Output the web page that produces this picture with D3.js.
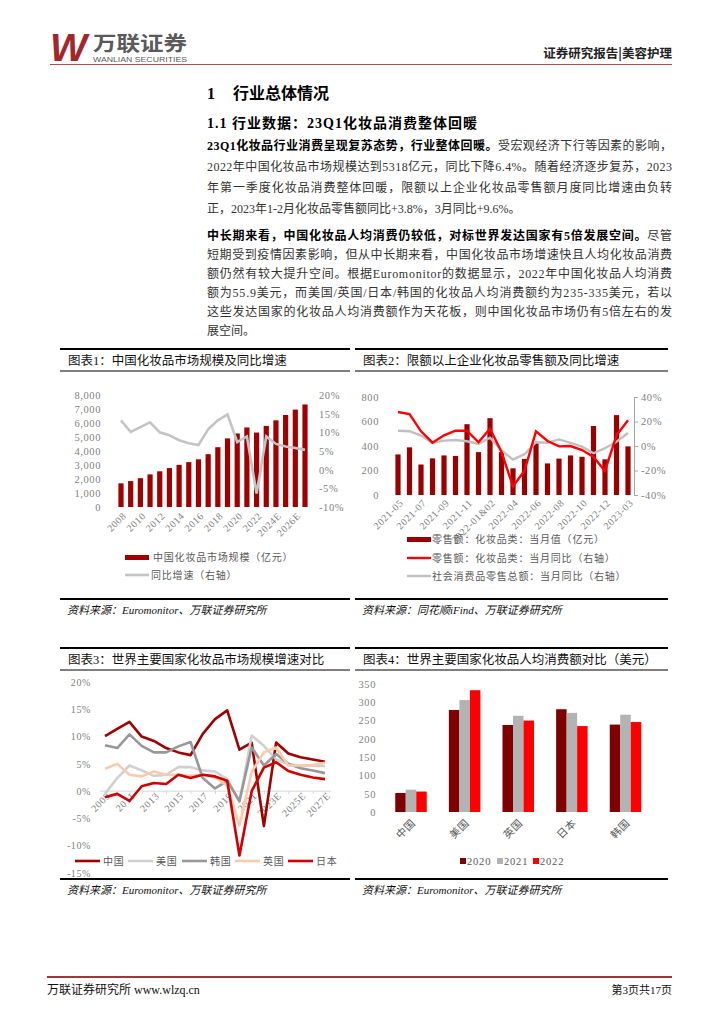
<!DOCTYPE html>
<html>
<head>
<meta charset="utf-8">
<script src="https://cdn.jsdelivr.net/npm/d3@7"></script>
<style>
  body { margin: 0; background: #fff; }
  svg { display: block; }
</style>
</head>
<body>
<svg id="page" width="724" height="1024"></svg>
<script>
// ---------- data ----------
// chart 1: China cosmetics market size (亿元) and YoY (%)
const marketYears = ['2008','2009','2010','2011','2012','2013','2014','2015','2016','2017','2018','2019','2020','2021','2022','2023E','2024E','2025E','2026E','2027E'];
const marketSize = [1690, 1850, 2060, 2330, 2550, 2780, 3010, 3205, 3404, 3770, 4270, 4900, 5250, 5682, 5318, 5791, 6190, 6574, 6955, 7324];
const marketGrowth = [13.2, 10.1, 11.4, 12.7, 10.0, 9.2, 7.9, 7.1, 6.6, 10.8, 13.2, 14.8, 7.4, 8.9, -6.4, 8.9, 6.9, 6.2, 5.8, 5.3];
const c1LeftTicks = [0, 1000, 2000, 3000, 4000, 5000, 6000, 7000, 8000];
const c1RightTicks = [-10, -5, 0, 5, 10, 15, 20];
const c1XLabels = ['2008','2010','2012','2014','2016','2018','2020','2022','2024E','2026E'];

// chart 2: retail sales of cosmetics above designated size
const retailMonths = ['2021-05','2021-06','2021-07','2021-08','2021-09','2021-10','2021-11','2021-12','2022-01&02','2022-03','2022-04','2022-05','2022-06','2022-07','2022-08','2022-09','2022-10','2022-11','2022-12','2023-01&02','2023-03'];
const cosmeticsRetail = [331, 389, 249, 299, 323, 319, 578, 350, 627, 350, 218, 294, 424, 258, 297, 323, 312, 563, 291, 652, 397];
const cosmeticsYoY = [27.8, 26.1, 12.0, 2.7, 8.7, 12.5, 12.5, 3.0, 14.1, -4.9, -33.0, -20.1, 12.0, 4.1, -0.3, 0.0, -3.3, -9.0, -20.4, 8.7, 21.0];
const totalRetailYoY = [12.4, 12.1, 8.5, 2.5, 4.4, 4.9, 3.9, 1.7, 6.7, -3.5, -11.1, -6.7, 3.1, 2.7, 5.4, 2.5, -0.5, -5.9, -1.8, 3.5, 10.6];
const c2LeftTicks = [0, 200, 400, 600, 800];
const c2RightTicks = [-40, -20, 0, 20, 40];
const c2XLabels = ['2021-05','2021-07','2021-09','2021-11','2022-01&02','2022-04','2022-06','2022-08','2022-10','2022-12','2023-03'];

// chart 3: market growth by country (%)
const worldYears = ['2009','2010','2011','2012','2013','2014','2015','2016','2017','2018','2019','2020','2021','2022','2023E','2024E','2025E','2026E','2027E'];
const chinaGrowth = [10.1, 11.4, 12.7, 10.0, 9.2, 7.9, 7.1, 6.6, 10.5, 13.2, 14.8, 7.6, 8.9, -6.4, 8.9, 6.9, 6.2, 5.8, 5.4];
const usGrowth = [-0.5, 2.4, 4.7, 3.8, 2.8, 3.0, 4.4, 4.4, 3.8, 3.6, 2.2, -2.0, 10.2, 8.3, 5.8, 5.0, 4.6, 4.6, 4.6];
const koreaGrowth = [8.4, 7.9, 10.4, 8.3, 7.1, 7.1, 8.2, 9.0, 2.4, 0.5, 1.9, -1.8, 8.0, 4.7, 6.8, 5.0, 4.2, 3.8, 3.3];
const ukGrowth = [4.1, 5.0, 3.0, 2.7, 3.6, 3.0, 3.0, 2.8, 3.0, 2.5, 1.0, -6.3, 3.5, 7.1, 8.0, 4.7, 4.7, 4.8, 5.2];
const japanGrowth = [-1.1, -0.5, -1.8, 0.9, 1.5, 1.3, 3.0, 2.4, 3.0, 2.7, 1.9, -11.8, 0.0, 4.3, 5.3, 3.7, 3.0, 2.5, 2.2];
const c3Ticks = [-15, -10, -5, 0, 5, 10, 15, 20];
const c3XLabels = ['2009','2011','2013','2015','2017','2019','2021','2023E','2025E','2027E'];

// chart 4: per-capita cosmetics spending (USD)
const countries = ['中国','美国','英国','日本','韩国'];
const spendYears = ['2020','2021','2022'];
const spend2020 = [52, 279, 238, 281, 239];
const spend2021 = [61, 306, 263, 271, 266];
const spend2022 = [55.9, 333, 250, 235, 246];
const c4Ticks = [0, 50, 100, 150, 200, 250, 300, 350];

// ---------- styles ----------
const TXT = '"Liberation Serif","Noto Sans CJK SC",serif';
const CJK = '"Noto Sans CJK SC",sans-serif';
const NUM = '"Liberation Serif",serif';
const AXIS_C = '#7f7f7f';

const page = d3.select('#page');

// ---------- header / footer ----------
page.append('text').attr('x', 50).attr('y', 61).text('W')
  .attr('font-family', '"Liberation Sans",sans-serif').attr('font-weight', 'bold')
  .attr('font-style', 'italic').attr('font-size', 38).attr('fill', '#a3262b')
  .attr('textLength', 37).attr('lengthAdjust', 'spacingAndGlyphs');
page.append('text').attr('x', 93).attr('y', 51).text('万联证券')
  .attr('font-family', CJK).attr('font-weight', 'bold').attr('font-size', 20).attr('fill', '#5a5a5a')
  .attr('textLength', 94).attr('lengthAdjust', 'spacingAndGlyphs');
page.append('text').attr('x', 93).attr('y', 62).text('WANLIAN SECURITIES')
  .attr('font-family', '"Liberation Sans",sans-serif').attr('font-size', 7).attr('fill', '#5a5a5a')
  .attr('textLength', 94).attr('lengthAdjust', 'spacingAndGlyphs');
page.append('text').attr('x', 672).attr('y', 58).attr('text-anchor', 'end').text('证券研究报告|美容护理')
  .attr('font-family', CJK).attr('font-weight', 'bold').attr('font-size', 12.5).attr('fill', '#222');
page.append('line').attr('x1', 50).attr('x2', 672).attr('y1', 64.5).attr('y2', 64.5)
  .attr('stroke', '#b5494b').attr('stroke-width', 1);

page.append('line').attr('x1', 47).attr('x2', 672).attr('y1', 977).attr('y2', 977)
  .attr('stroke', '#a3353a').attr('stroke-width', 2);
page.append('text').attr('x', 47).attr('y', 994).text('万联证券研究所 www.wlzq.cn')
  .attr('font-family', TXT).attr('font-size', 12).attr('fill', '#111');
page.append('text').attr('x', 672).attr('y', 994).attr('text-anchor', 'end').text('第3页共17页')
  .attr('font-family', TXT).attr('font-size', 11).attr('fill', '#111');

// ---------- headings and paragraphs ----------
page.append('text').attr('x', 207).attr('y', 99).text('1')
  .attr('font-family', TXT).attr('font-weight', 'bold').attr('font-size', 16);
page.append('text').attr('x', 233).attr('y', 99).text('行业总体情况')
  .attr('font-family', CJK).attr('font-weight', 'bold').attr('font-size', 16);
page.append('text').attr('x', 207).attr('y', 128).text('1.1 行业数据：23Q1化妆品消费整体回暖')
  .attr('font-family', TXT).attr('font-weight', 'bold').attr('font-size', 14)
  .attr('textLength', 270).attr('lengthAdjust', 'spacing');

const para1 = [
  [['23Q1化妆品行业消费呈现复苏态势，行业整体回暖。', true], ['受宏观经济下行等因素的影响，', false]],
  [['2022年中国化妆品市场规模达到5318亿元，同比下降6.4%。随着经济逐步复苏，2023', false]],
  [['年第一季度化妆品消费整体回暖，限额以上企业化妆品零售额月度同比增速由负转', false]],
  [['正，2023年1-2月化妆品零售额同比+3.8%，3月同比+9.6%。', false]]
];
const para2 = [
  [['中长期来看，中国化妆品人均消费仍较低，对标世界发达国家有5倍发展空间。', true], ['尽管', false]],
  [['短期受到疫情因素影响，但从中长期来看，中国化妆品市场增速快且人均化妆品消费', false]],
  [['额仍然有较大提升空间。根据Euromonitor的数据显示，2022年中国化妆品人均消费', false]],
  [['额为55.9美元，而美国/英国/日本/韩国的化妆品人均消费额约为235-335美元，若以', false]],
  [['这些发达国家的化妆品人均消费额作为天花板，则中国化妆品市场仍有5倍左右的发', false]],
  [['展空间。', false]]
];
function paragraph(lines, y0, pitch) {
  lines.forEach((parts, i) => {
    const t = page.append('text').attr('x', 207).attr('y', y0 + i * pitch)
      .attr('font-family', TXT).attr('font-size', 12).attr('fill', '#222');
    if (i < lines.length - 1) t.attr('textLength', 465).attr('lengthAdjust', 'spacing');
    parts.forEach(([s, bold]) => {
      t.append('tspan').text(s).attr('font-weight', bold ? 'bold' : 'normal')
        .attr('fill', bold ? '#000' : '#333');
    });
  });
}
paragraph(para1, 150, 21);
paragraph(para2, 240, 19);

// ---------- chart frames ----------
function frame(x0, x1, yTop, title, yBottom, source) {
  page.append('line').attr('x1', x0).attr('x2', x1).attr('y1', yTop).attr('y2', yTop)
    .attr('stroke', '#000').attr('stroke-width', 2);
  page.append('text').attr('x', x0 + 8).attr('y', yTop + 16).text(title)
    .attr('font-family', TXT).attr('font-size', 12.5).attr('fill', '#111');
  page.append('line').attr('x1', x0).attr('x2', x1).attr('y1', yTop + 22).attr('y2', yTop + 22)
    .attr('stroke', '#000').attr('stroke-width', 1);
  page.append('line').attr('x1', x0).attr('x2', x1).attr('y1', yBottom).attr('y2', yBottom)
    .attr('stroke', '#000').attr('stroke-width', 2);
  page.append('text').attr('x', x0 + 7).attr('y', yBottom + 15).text(source)
    .attr('font-family', TXT).attr('font-style', 'italic').attr('font-size', 11).attr('fill', '#111');
}
function styleAxis(g, size) {
  g.select('.domain').remove();
  g.selectAll('text').attr('font-family', NUM).attr('font-size', size || 10.5)
    .attr('fill', AXIS_C).attr('letter-spacing', 0.6);
}
function rotateLabels(g) {
  g.selectAll('text').attr('text-anchor', 'end').attr('x', 0).attr('y', 0)
    .attr('dy', '0.35em').attr('transform', 'rotate(-45)');
}
function legendText(x, y, s) {
  page.append('text').attr('x', x).attr('y', y + 3.5).text(s)
    .attr('font-family', TXT).attr('font-size', 10).attr('fill', '#595959').attr('letter-spacing', 0.8);
}

frame(60, 350, 349, '图表1：中国化妆品市场规模及同比增速', 599, '资料来源：Euromonitor、万联证券研究所');
frame(355, 668, 349, '图表2：限额以上企业化妆品零售额及同比增速', 599, '资料来源：同花顺iFind、万联证券研究所');
frame(60, 350, 648, '图表3：世界主要国家化妆品市场规模增速对比', 879, '资料来源：Euromonitor、万联证券研究所');
frame(355, 668, 648, '图表4：世界主要国家化妆品人均消费额对比（美元）', 879, '资料来源：Euromonitor、万联证券研究所');

// ---------- chart 1 ----------
{
  const g = page.append('g');
  const x = d3.scalePoint().domain(marketYears).range([121, 305]);
  const y = d3.scaleLinear().domain([0, 8000]).range([507, 395]);
  const yR = d3.scaleLinear().domain([-10, 20]).range([507, 395]);
  g.selectAll('rect').data(marketSize).join('rect')
    .attr('x', (d, i) => x(marketYears[i]) - 2.6).attr('width', 5.2)
    .attr('y', d => y(d)).attr('height', d => y(0) - y(d)).attr('fill', '#a00000');
  g.append('path').datum(marketGrowth)
    .attr('d', d3.line().x((d, i) => x(marketYears[i])).y(d => yR(d)))
    .attr('fill', 'none').attr('stroke', '#c4c4c4').attr('stroke-width', 2.6);
  const la = g.append('g').attr('transform', 'translate(101,0)')
    .call(d3.axisLeft(y).tickValues(c1LeftTicks).tickSize(0).tickPadding(0).tickFormat(d3.format(',')));
  styleAxis(la);
  const ra = g.append('g').attr('transform', 'translate(319,0)')
    .call(d3.axisRight(yR).tickValues(c1RightTicks).tickSize(0).tickPadding(0).tickFormat(d => d + '%'));
  styleAxis(ra);
  const xa = g.append('g').attr('transform', 'translate(3,514)')
    .call(d3.axisBottom(x).tickValues(c1XLabels).tickSize(0));
  styleAxis(xa, 10);
  rotateLabels(xa);
  page.append('rect').attr('x', 125).attr('y', 555).attr('width', 24).attr('height', 5).attr('fill', '#a00000');
  legendText(153, 557, '中国化妆品市场规模（亿元）');
  page.append('line').attr('x1', 125).attr('x2', 149).attr('y1', 575).attr('y2', 575)
    .attr('stroke', '#c4c4c4').attr('stroke-width', 2.6);
  legendText(151, 575, '同比增速（右轴）');
}

// ---------- chart 2 ----------
{
  const g = page.append('g');
  const x = d3.scalePoint().domain(retailMonths).range([398, 628]);
  const y = d3.scaleLinear().domain([0, 800]).range([495, 397]);
  const yR = d3.scaleLinear().domain([-40, 40]).range([495, 397]);
  g.selectAll('rect').data(cosmeticsRetail).join('rect')
    .attr('x', (d, i) => x(retailMonths[i]) - 2.6).attr('width', 5.2)
    .attr('y', d => y(d)).attr('height', d => y(0) - y(d)).attr('fill', '#990000');
  g.append('path').datum(totalRetailYoY)
    .attr('d', d3.line().x((d, i) => x(retailMonths[i])).y(d => yR(d)))
    .attr('fill', 'none').attr('stroke', '#c0c0c0').attr('stroke-width', 2.4);
  g.append('path').datum(cosmeticsYoY)
    .attr('d', d3.line().x((d, i) => x(retailMonths[i])).y(d => yR(d)))
    .attr('fill', 'none').attr('stroke', '#ff0000').attr('stroke-width', 2.4);
  const la = g.append('g').attr('transform', 'translate(379,0)')
    .call(d3.axisLeft(y).tickValues(c2LeftTicks).tickSize(0).tickPadding(0));
  styleAxis(la);
  const ra = g.append('g').attr('transform', 'translate(634,0)')
    .call(d3.axisRight(yR).tickValues(c2RightTicks).tickSize(4).tickSizeOuter(0).tickPadding(3).tickFormat(d => d + '%'));
  ra.selectAll('text').attr('font-family', NUM).attr('font-size', 10.5).attr('fill', AXIS_C).attr('letter-spacing', 0.6);
  ra.selectAll('line,path').attr('stroke', '#a6a6a6');
  const xa = g.append('g').attr('transform', 'translate(3,501)')
    .call(d3.axisBottom(x).tickValues(c2XLabels).tickSize(0));
  styleAxis(xa, 10);
  rotateLabels(xa);
  page.append('rect').attr('x', 407).attr('y', 537).attr('width', 24).attr('height', 5).attr('fill', '#990000');
  legendText(432, 539, '零售额：化妆品类：当月值（亿元）');
  page.append('line').attr('x1', 407).attr('x2', 431).attr('y1', 558).attr('y2', 558)
    .attr('stroke', '#ff0000').attr('stroke-width', 2.4);
  legendText(432, 558, '零售额：化妆品类：当月同比（右轴）');
  page.append('line').attr('x1', 407).attr('x2', 431).attr('y1', 576).attr('y2', 576)
    .attr('stroke', '#c0c0c0').attr('stroke-width', 2.4);
  legendText(432, 576, '社会消费品零售总额：当月同比（右轴）');
}

// ---------- chart 3 ----------
{
  const g = page.append('g');
  const x = d3.scalePoint().domain(worldYears).range([105, 325]);
  const y = d3.scaleLinear().domain([-15, 20]).range([873, 682]);
  const ya = g.append('g').attr('transform', 'translate(91,0)')
    .call(d3.axisLeft(y).tickValues(c3Ticks).tickSize(0).tickPadding(0).tickFormat(d => d + '%'));
  styleAxis(ya, 10);
  g.append('line').attr('x1', 100).attr('x2', 331).attr('y1', y(0)).attr('y2', y(0))
    .attr('stroke', '#d9d9d9').attr('stroke-width', 1);
  const xt = g.append('g').attr('transform', `translate(0,${y(0)})`)
    .call(d3.axisBottom(x).tickSize(3).tickFormat(''));
  xt.select('.domain').remove();
  xt.selectAll('line').attr('stroke', '#d9d9d9');
  const xa = g.append('g').attr('transform', `translate(3,${y(0) + 3})`)
    .call(d3.axisBottom(x).tickValues(c3XLabels).tickSize(0));
  styleAxis(xa, 10);
  rotateLabels(xa);
  const series = [
    ['中国', chinaGrowth, '#a00000'],
    ['美国', usGrowth, '#d0d0d0'],
    ['韩国', koreaGrowth, '#989898'],
    ['英国', ukGrowth, '#f8cbad'],
    ['日本', japanGrowth, '#d10000']
  ];
  const line = d3.line().x((d, i) => x(worldYears[i])).y(d => y(d));
  series.forEach(([name, vals, col]) => {
    g.append('path').datum(vals).attr('d', line)
      .attr('fill', 'none').attr('stroke', col).attr('stroke-width', 2.6).attr('stroke-linejoin', 'round');
  });
  const lx = [75, 128, 182, 235, 288];
  series.forEach(([name, vals, col], i) => {
    page.append('line').attr('x1', lx[i]).attr('x2', lx[i] + 25).attr('y1', 861).attr('y2', 861)
      .attr('stroke', col).attr('stroke-width', 2.6);
    legendText(lx[i] + 28, 861, name);
  });
}

// ---------- chart 4 ----------
{
  const g = page.append('g');
  const x = d3.scalePoint().domain(countries).range([411, 625.5]);
  const xi = d3.scaleBand().domain(spendYears).range([-15.75, 15.75]);
  const y = d3.scaleLinear().domain([0, 350]).range([812, 684]);
  const colors = ['#7f0000', '#b3b3b3', '#ff0000'];
  const rows = [spend2020, spend2021, spend2022];
  rows.forEach((vals, k) => {
    g.append('g').selectAll('rect').data(vals).join('rect')
      .attr('x', (d, i) => x(countries[i]) + xi(spendYears[k])).attr('width', xi.bandwidth())
      .attr('y', d => y(d)).attr('height', d => y(0) - y(d)).attr('fill', colors[k]);
  });
  const ya = g.append('g').attr('transform', 'translate(376,0)')
    .call(d3.axisLeft(y).tickValues(c4Ticks).tickSize(0).tickPadding(0));
  styleAxis(ya);
  const xa = g.append('g').attr('transform', 'translate(2,821)')
    .call(d3.axisBottom(x).tickSize(0));
  styleAxis(xa, 10.5);
  xa.selectAll('text').attr('font-family', TXT).attr('fill', '#595959');
  rotateLabels(xa);
  const lx = [460, 497, 533];
  spendYears.forEach((yr, k) => {
    page.append('rect').attr('x', lx[k]).attr('y', 858).attr('width', 6).attr('height', 6).attr('fill', colors[k]);
    page.append('text').attr('x', lx[k] + 7).attr('y', 865).text(yr)
      .attr('font-family', NUM).attr('font-size', 10.5).attr('fill', '#595959').attr('letter-spacing', 0.8);
  });
}
</script>
</body>
</html>
